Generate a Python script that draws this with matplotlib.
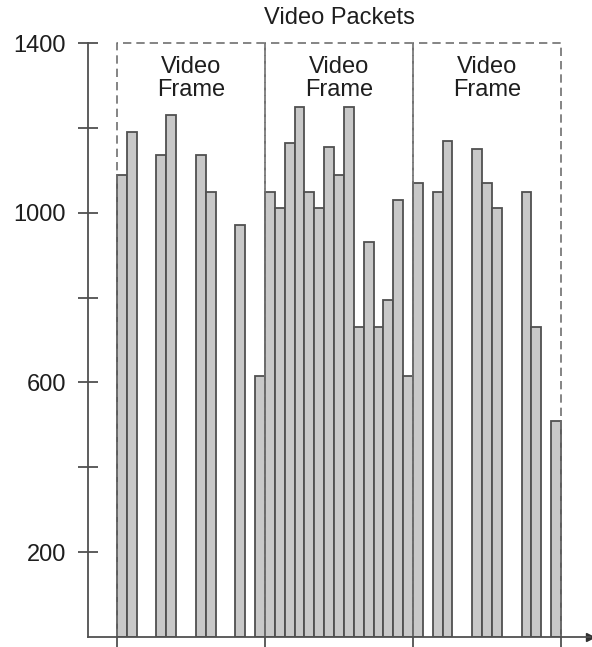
import matplotlib.pyplot as plt
import numpy as np

plt.rcParams['font.family'] = ['Liberation Sans', 'DejaVu Sans']

# packet sizes per slot (None = no packet in that slot), 3 frames x 15 slots
frame1 = [1090, 1190, None, None, 1135, 1230, None, None, 1135, 1050,
          None, None, 970, None, 615]
frame2 = [1050, 1010, 1165, 1250, 1050, 1010, 1155, 1090, 1250, 730,
          930, 730, 795, 1030, 615]
frame3 = [1070, None, 1050, 1170, None, None, 1150, 1070, 1010, None,
          None, 1050, 730, None, 510]
frame_labels = ["Video\nFrame", "Video\nFrame", "Video\nFrame"]
yticks = [200, 400, 600, 800, 1000, 1200, 1400]
ytick_labels = ["200", "", "600", "", "1000", "", "1400"]
slots_per_frame = 15

sizes = frame1 + frame2 + frame3
xs = np.array([i for i, v in enumerate(sizes) if v is not None])
hs = np.array([v for v in sizes if v is not None])

fig = plt.figure(figsize=(5.92, 6.47), dpi=100)
ax = fig.add_axes([88 / 592, 10 / 647, 502 / 592, 594 / 647])

ax.bar(xs, hs, width=1.0, align='edge', color='#c8c8c8',
       edgecolor='#505050', linewidth=1.3, zorder=2)

# dashed frame boxes
for k, lab in enumerate(frame_labels):
    x0 = k * slots_per_frame
    x1 = x0 + slots_per_frame
    ax.plot([x0, x0, x1, x1], [0, 1400, 1400, 0], linestyle=(0, (5, 3)),
            color='#707070', linewidth=1.2, zorder=3, clip_on=False)
    ax.text((x0 + x1) / 2, 1370, lab, ha='center', va='top', fontsize=17,
            linespacing=1.08, color='#1e1e1e')

ax.text(22.5, 1458, "Video Packets", ha='center', va='center', fontsize=17,
        color='#1e1e1e', clip_on=False)

ax.set_xlim(-2.94, 47.94)
ax.set_ylim(0, 1400)

for s in ['top', 'right']:
    ax.spines[s].set_visible(False)
ax.spines['left'].set_color('#505050')
ax.spines['bottom'].set_color('#505050')
ax.spines['left'].set_linewidth(1.3)
ax.spines['bottom'].set_linewidth(1.3)
ax.spines['left'].set_zorder(4)
ax.spines['bottom'].set_zorder(4)
ax.plot(1, 0, '>', color='#303030', markersize=6, transform=ax.transAxes,
        clip_on=False)

ax.set_yticks(yticks)
ax.set_yticklabels(ytick_labels, fontsize=17, color='#1e1e1e')
ax.tick_params(axis='y', direction='inout', length=14, width=1.3,
               color='#505050', pad=9)
ax.set_xticks([0, 15, 30, 45])
ax.set_xticklabels([])
ax.tick_params(axis='x', direction='out', length=7, width=1.3,
               color='#505050')

fig.savefig("out.png", dpi=100)
